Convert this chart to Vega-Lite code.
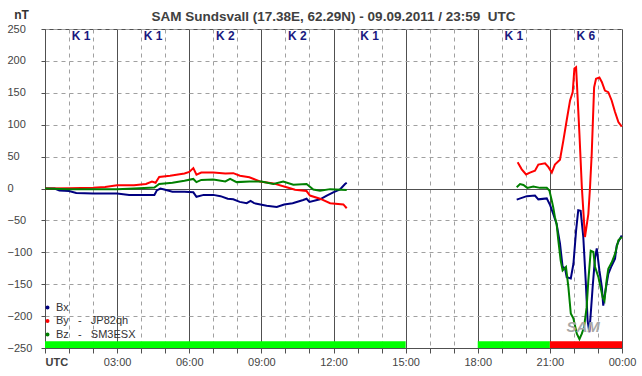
{
  "$schema": "https://vega.github.io/schema/vega-lite/v6.json",
  "autosize": {"type": "none"},
  "width": 577,
  "height": 319,
  "padding": {"left": 45, "top": 29, "right": 20, "bottom": 28},
  "background": "white",
  "config": {
    "view": {"stroke": "#505050", "strokeWidth": 1},
    "font": "Liberation Sans"
  },
  "title": {
    "text": "SAM Sundsvall (17.38E, 62.29N) - 09.09.2011 / 23:59\u00a0\u00a0UTC",
    "anchor": "middle",
    "fontSize": 13.5,
    "fontWeight": "bold",
    "color": "#404040",
    "offset": -15,
    "font": "Liberation Sans Narrow, Liberation Sans"
  },
  "datasets": {
    "mag": [
      {"s": "Bx", "g": 1, "h": 0, "v": 0},
      {"s": "Bx", "g": 1, "h": 0.4, "v": 0},
      {"s": "Bx", "g": 1, "h": 0.6, "v": -3},
      {"s": "Bx", "g": 1, "h": 1.0, "v": -4},
      {"s": "Bx", "g": 1, "h": 1.3, "v": -7},
      {"s": "Bx", "g": 1, "h": 2.0, "v": -8},
      {"s": "Bx", "g": 1, "h": 3.0, "v": -8},
      {"s": "Bx", "g": 1, "h": 3.5, "v": -10},
      {"s": "Bx", "g": 1, "h": 4.0, "v": -10},
      {"s": "Bx", "g": 1, "h": 4.55, "v": -10},
      {"s": "Bx", "g": 1, "h": 4.65, "v": -3},
      {"s": "Bx", "g": 1, "h": 4.8, "v": 0},
      {"s": "Bx", "g": 1, "h": 5.0, "v": -2},
      {"s": "Bx", "g": 1, "h": 5.3, "v": -5},
      {"s": "Bx", "g": 1, "h": 5.8, "v": -5},
      {"s": "Bx", "g": 1, "h": 6.17, "v": -6},
      {"s": "Bx", "g": 1, "h": 6.3, "v": -13},
      {"s": "Bx", "g": 1, "h": 6.6, "v": -10},
      {"s": "Bx", "g": 1, "h": 7.0, "v": -10},
      {"s": "Bx", "g": 1, "h": 7.3, "v": -12},
      {"s": "Bx", "g": 1, "h": 7.6, "v": -16},
      {"s": "Bx", "g": 1, "h": 7.83, "v": -17},
      {"s": "Bx", "g": 1, "h": 8.1, "v": -21},
      {"s": "Bx", "g": 1, "h": 8.39, "v": -23},
      {"s": "Bx", "g": 1, "h": 8.55, "v": -19.5},
      {"s": "Bx", "g": 1, "h": 8.7, "v": -23},
      {"s": "Bx", "g": 1, "h": 9.22, "v": -27},
      {"s": "Bx", "g": 1, "h": 9.64, "v": -29},
      {"s": "Bx", "g": 1, "h": 9.95, "v": -25},
      {"s": "Bx", "g": 1, "h": 10.3, "v": -23},
      {"s": "Bx", "g": 1, "h": 10.74, "v": -18},
      {"s": "Bx", "g": 1, "h": 10.88, "v": -16},
      {"s": "Bx", "g": 1, "h": 11.0, "v": -21},
      {"s": "Bx", "g": 1, "h": 11.44, "v": -17},
      {"s": "Bx", "g": 1, "h": 11.72, "v": -11},
      {"s": "Bx", "g": 1, "h": 11.99, "v": -6},
      {"s": "Bx", "g": 1, "h": 12.27, "v": -1.5},
      {"s": "Bx", "g": 1, "h": 12.48, "v": 7},
      {"s": "Bx", "g": 1, "h": 12.55, "v": 9},
      {"s": "Bx", "g": 2, "h": 19.62, "v": -17.5},
      {"s": "Bx", "g": 2, "h": 20.04, "v": -12},
      {"s": "Bx", "g": 2, "h": 20.38, "v": -11},
      {"s": "Bx", "g": 2, "h": 20.52, "v": -17},
      {"s": "Bx", "g": 2, "h": 20.87, "v": -15.5},
      {"s": "Bx", "g": 2, "h": 21.01, "v": -26},
      {"s": "Bx", "g": 2, "h": 21.14, "v": -40},
      {"s": "Bx", "g": 2, "h": 21.28, "v": -55.5},
      {"s": "Bx", "g": 2, "h": 21.42, "v": -86},
      {"s": "Bx", "g": 2, "h": 21.53, "v": -123},
      {"s": "Bx", "g": 2, "h": 21.63, "v": -125},
      {"s": "Bx", "g": 2, "h": 21.7, "v": -139},
      {"s": "Bx", "g": 2, "h": 21.87, "v": -141},
      {"s": "Bx", "g": 2, "h": 21.98, "v": -118},
      {"s": "Bx", "g": 2, "h": 22.09, "v": -66},
      {"s": "Bx", "g": 2, "h": 22.18, "v": -34},
      {"s": "Bx", "g": 2, "h": 22.28, "v": -35},
      {"s": "Bx", "g": 2, "h": 22.39, "v": -76},
      {"s": "Bx", "g": 2, "h": 22.49, "v": -144},
      {"s": "Bx", "g": 2, "h": 22.57, "v": -207},
      {"s": "Bx", "g": 2, "h": 22.64, "v": -225},
      {"s": "Bx", "g": 2, "h": 22.7, "v": -196},
      {"s": "Bx", "g": 2, "h": 22.78, "v": -154},
      {"s": "Bx", "g": 2, "h": 22.88, "v": -108},
      {"s": "Bx", "g": 2, "h": 22.95, "v": -94},
      {"s": "Bx", "g": 2, "h": 23.06, "v": -128.5},
      {"s": "Bx", "g": 2, "h": 23.16, "v": -154},
      {"s": "Bx", "g": 2, "h": 23.22, "v": -183.5},
      {"s": "Bx", "g": 2, "h": 23.29, "v": -165},
      {"s": "Bx", "g": 2, "h": 23.43, "v": -134},
      {"s": "Bx", "g": 2, "h": 23.57, "v": -121},
      {"s": "Bx", "g": 2, "h": 23.71, "v": -110},
      {"s": "Bx", "g": 2, "h": 23.78, "v": -89.5},
      {"s": "Bx", "g": 2, "h": 23.88, "v": -81},
      {"s": "Bx", "g": 2, "h": 23.99, "v": -73.7},
      {"s": "By", "g": 1, "h": 0, "v": 0},
      {"s": "By", "g": 1, "h": 1.0, "v": 0.5},
      {"s": "By", "g": 1, "h": 2.0, "v": 1},
      {"s": "By", "g": 1, "h": 2.5, "v": 2.5},
      {"s": "By", "g": 1, "h": 3.0, "v": 5},
      {"s": "By", "g": 1, "h": 3.7, "v": 5},
      {"s": "By", "g": 1, "h": 4.2, "v": 7},
      {"s": "By", "g": 1, "h": 4.45, "v": 11},
      {"s": "By", "g": 1, "h": 4.6, "v": 9},
      {"s": "By", "g": 1, "h": 4.75, "v": 18},
      {"s": "By", "g": 1, "h": 5.2, "v": 20},
      {"s": "By", "g": 1, "h": 5.8, "v": 23.6},
      {"s": "By", "g": 1, "h": 6.0, "v": 26},
      {"s": "By", "g": 1, "h": 6.17, "v": 32},
      {"s": "By", "g": 1, "h": 6.3, "v": 21.6},
      {"s": "By", "g": 1, "h": 6.5, "v": 25},
      {"s": "By", "g": 1, "h": 7.0, "v": 25},
      {"s": "By", "g": 1, "h": 7.5, "v": 23.6},
      {"s": "By", "g": 1, "h": 7.83, "v": 24},
      {"s": "By", "g": 1, "h": 8.11, "v": 20},
      {"s": "By", "g": 1, "h": 8.5, "v": 17.5},
      {"s": "By", "g": 1, "h": 8.94, "v": 11},
      {"s": "By", "g": 1, "h": 9.5, "v": 8},
      {"s": "By", "g": 1, "h": 10.05, "v": 2},
      {"s": "By", "g": 1, "h": 10.4, "v": -2},
      {"s": "By", "g": 1, "h": 10.88, "v": -4},
      {"s": "By", "g": 1, "h": 11.02, "v": -11},
      {"s": "By", "g": 1, "h": 11.44, "v": -16},
      {"s": "By", "g": 1, "h": 11.86, "v": -23},
      {"s": "By", "g": 1, "h": 12.41, "v": -25},
      {"s": "By", "g": 1, "h": 12.55, "v": -31},
      {"s": "By", "g": 2, "h": 19.66, "v": 41},
      {"s": "By", "g": 2, "h": 19.83, "v": 30},
      {"s": "By", "g": 2, "h": 20.01, "v": 22},
      {"s": "By", "g": 2, "h": 20.17, "v": 25},
      {"s": "By", "g": 2, "h": 20.38, "v": 28},
      {"s": "By", "g": 2, "h": 20.52, "v": 37.5},
      {"s": "By", "g": 2, "h": 20.8, "v": 39.5},
      {"s": "By", "g": 2, "h": 20.94, "v": 33.5},
      {"s": "By", "g": 2, "h": 21.08, "v": 25},
      {"s": "By", "g": 2, "h": 21.21, "v": 37.5},
      {"s": "By", "g": 2, "h": 21.42, "v": 45},
      {"s": "By", "g": 2, "h": 21.56, "v": 75},
      {"s": "By", "g": 2, "h": 21.7, "v": 107},
      {"s": "By", "g": 2, "h": 21.84, "v": 138},
      {"s": "By", "g": 2, "h": 21.95, "v": 151},
      {"s": "By", "g": 2, "h": 22.02, "v": 188},
      {"s": "By", "g": 2, "h": 22.09, "v": 190},
      {"s": "By", "g": 2, "h": 22.14, "v": 153},
      {"s": "By", "g": 2, "h": 22.23, "v": 85},
      {"s": "By", "g": 2, "h": 22.33, "v": 2},
      {"s": "By", "g": 2, "h": 22.4, "v": -40},
      {"s": "By", "g": 2, "h": 22.46, "v": -76},
      {"s": "By", "g": 2, "h": 22.6, "v": -40},
      {"s": "By", "g": 2, "h": 22.67, "v": 2},
      {"s": "By", "g": 2, "h": 22.74, "v": 54},
      {"s": "By", "g": 2, "h": 22.84, "v": 158.5},
      {"s": "By", "g": 2, "h": 22.92, "v": 172},
      {"s": "By", "g": 2, "h": 23.06, "v": 174},
      {"s": "By", "g": 2, "h": 23.16, "v": 167},
      {"s": "By", "g": 2, "h": 23.29, "v": 153.5},
      {"s": "By", "g": 2, "h": 23.43, "v": 151},
      {"s": "By", "g": 2, "h": 23.57, "v": 138},
      {"s": "By", "g": 2, "h": 23.71, "v": 120},
      {"s": "By", "g": 2, "h": 23.85, "v": 104},
      {"s": "By", "g": 2, "h": 23.99, "v": 97},
      {"s": "Bz", "g": 1, "h": 0, "v": 0},
      {"s": "Bz", "g": 1, "h": 1.0, "v": -1},
      {"s": "Bz", "g": 1, "h": 2.5, "v": -1},
      {"s": "Bz", "g": 1, "h": 3.0, "v": -1},
      {"s": "Bz", "g": 1, "h": 3.7, "v": 0},
      {"s": "Bz", "g": 1, "h": 4.55, "v": 1.5},
      {"s": "Bz", "g": 1, "h": 4.75, "v": 7},
      {"s": "Bz", "g": 1, "h": 5.3, "v": 9},
      {"s": "Bz", "g": 1, "h": 5.8, "v": 12},
      {"s": "Bz", "g": 1, "h": 6.17, "v": 15},
      {"s": "Bz", "g": 1, "h": 6.3, "v": 10},
      {"s": "Bz", "g": 1, "h": 6.5, "v": 13.5},
      {"s": "Bz", "g": 1, "h": 7.0, "v": 14},
      {"s": "Bz", "g": 1, "h": 7.5, "v": 11},
      {"s": "Bz", "g": 1, "h": 7.7, "v": 15},
      {"s": "Bz", "g": 1, "h": 7.97, "v": 10},
      {"s": "Bz", "g": 1, "h": 8.5, "v": 11},
      {"s": "Bz", "g": 1, "h": 9.0, "v": 11},
      {"s": "Bz", "g": 1, "h": 9.5, "v": 7},
      {"s": "Bz", "g": 1, "h": 9.91, "v": 11},
      {"s": "Bz", "g": 1, "h": 10.33, "v": 6},
      {"s": "Bz", "g": 1, "h": 10.88, "v": 7},
      {"s": "Bz", "g": 1, "h": 11.16, "v": -1.5},
      {"s": "Bz", "g": 1, "h": 11.44, "v": -3.6},
      {"s": "Bz", "g": 1, "h": 11.86, "v": -1},
      {"s": "Bz", "g": 1, "h": 12.55, "v": -2.5},
      {"s": "Bz", "g": 2, "h": 19.62, "v": 2},
      {"s": "Bz", "g": 2, "h": 19.76, "v": 7},
      {"s": "Bz", "g": 2, "h": 19.9, "v": 5.6},
      {"s": "Bz", "g": 2, "h": 20.06, "v": 1},
      {"s": "Bz", "g": 2, "h": 20.31, "v": 3},
      {"s": "Bz", "g": 2, "h": 20.59, "v": 1},
      {"s": "Bz", "g": 2, "h": 20.87, "v": 1},
      {"s": "Bz", "g": 2, "h": 20.98, "v": -3},
      {"s": "Bz", "g": 2, "h": 21.08, "v": -19},
      {"s": "Bz", "g": 2, "h": 21.14, "v": -29.5},
      {"s": "Bz", "g": 2, "h": 21.21, "v": -45},
      {"s": "Bz", "g": 2, "h": 21.28, "v": -55.5},
      {"s": "Bz", "g": 2, "h": 21.35, "v": -81},
      {"s": "Bz", "g": 2, "h": 21.45, "v": -113},
      {"s": "Bz", "g": 2, "h": 21.53, "v": -128.5},
      {"s": "Bz", "g": 2, "h": 21.67, "v": -123},
      {"s": "Bz", "g": 2, "h": 21.77, "v": -154.5},
      {"s": "Bz", "g": 2, "h": 21.87, "v": -196},
      {"s": "Bz", "g": 2, "h": 21.98, "v": -204},
      {"s": "Bz", "g": 2, "h": 22.12, "v": -227.5},
      {"s": "Bz", "g": 2, "h": 22.23, "v": -236},
      {"s": "Bz", "g": 2, "h": 22.33, "v": -227.5},
      {"s": "Bz", "g": 2, "h": 22.42, "v": -217.5},
      {"s": "Bz", "g": 2, "h": 22.53, "v": -186},
      {"s": "Bz", "g": 2, "h": 22.6, "v": -144},
      {"s": "Bz", "g": 2, "h": 22.7, "v": -97.5},
      {"s": "Bz", "g": 2, "h": 22.81, "v": -99.5},
      {"s": "Bz", "g": 2, "h": 22.88, "v": -123},
      {"s": "Bz", "g": 2, "h": 23.02, "v": -139},
      {"s": "Bz", "g": 2, "h": 23.2, "v": -171},
      {"s": "Bz", "g": 2, "h": 23.27, "v": -176},
      {"s": "Bz", "g": 2, "h": 23.36, "v": -144},
      {"s": "Bz", "g": 2, "h": 23.43, "v": -126},
      {"s": "Bz", "g": 2, "h": 23.57, "v": -116},
      {"s": "Bz", "g": 2, "h": 23.71, "v": -102.5},
      {"s": "Bz", "g": 2, "h": 23.85, "v": -81},
      {"s": "Bz", "g": 2, "h": 23.99, "v": -76}
    ],
    "kindex": [
      {"mid": 1.5, "k": "K 1"},
      {"mid": 4.5, "k": "K 1"},
      {"mid": 7.5, "k": "K 2"},
      {"mid": 10.5, "k": "K 2"},
      {"mid": 13.5, "k": "K 1"},
      {"mid": 19.5, "k": "K 1"},
      {"mid": 22.5, "k": "K 6"}
    ],
    "status": [
      {"from": 0, "to": 15, "state": "quiet"},
      {"from": 18, "to": 21, "state": "quiet"},
      {"from": 21, "to": 24, "state": "storm"}
    ],
    "logo": [{"h": 22.38, "v": -217, "t": "SAM"}]
  },
  "layer": [
    {
      "data": {"name": "status"},
      "mark": {"type": "rect"},
      "encoding": {
        "x": {
          "field": "from", "type": "quantitative",
          "scale": {"domain": [0, 24], "nice": false, "zero": false},
          "axis": {
            "values": [0,1,2,3,4,5,6,7,8,9,10,11,12,13,14,15,16,17,18,19,20,21,22,23,24],
            "tickCount": 40,
            "title": null,
            "labelExpr": "datum.value == 0 ? 'UTC' : datum.value == 24 ? '00:00' : (datum.value % 3 == 0 ? (datum.value < 10 ? '0' : '') + datum.value + ':00' : '')",
            "labelFontWeight": {"condition": {"test": "datum.value == 0", "value": "bold"}, "value": "normal"},
            "labelColor": {"condition": {"test": "datum.value == 0", "value": "#404040"}, "value": "#444444"},
            "labelAlign": {"condition": {"test": "datum.value == 0", "value": "left"}, "value": "center"},
            "labelFontSize": 11,
            "labelFont": "Liberation Sans",
            "labelPadding": 3,
            "labelFlush": false,
            "labelOverlap": false,
            "tickSize": 5,
            "tickColor": "#505050",
            "domainColor": "#505050",
            "grid": true,
            "gridColor": {"condition": {"test": "datum.value % 3 == 0", "value": "#505050"}, "value": "#a0a0a0"},
            "gridDash": {"condition": {"test": "datum.value % 3 == 0", "value": []}, "value": [4, 4]},
            "gridWidth": 1
          }
        },
        "x2": {"field": "to"},
        "y": {
          "datum": -250, "type": "quantitative",
          "scale": {"domain": [-250, 250], "nice": false, "zero": false},
          "axis": {
            "values": [-250,-200,-150,-100,-50,0,50,100,150,200,250],
            "tickCount": 40,
            "title": "nT",
            "titleAngle": 0,
            "titleX": -24,
            "titleY": -15,
            "titleAlign": "center",
            "titleBaseline": "middle",
            "titleFontSize": 12,
            "titleFontWeight": "bold",
            "titleColor": "#333333",
            "titleFont": "Liberation Sans",
            "labelFontSize": 11,
            "labelFont": "Liberation Sans",
            "labelColor": "#444444",
            "labelAlign": "left",
            "labelPadding": 34,
            "labelFlush": false,
            "labelOverlap": false,
            "tickSize": 4,
            "tickColor": "#505050",
            "domainColor": "#505050",
            "grid": true,
            "gridColor": {"condition": {"test": "datum.value == 0", "value": "#505050"}, "value": "#a0a0a0"},
            "gridDash": {"condition": {"test": "datum.value == 0", "value": []}, "value": [4, 4]},
            "gridWidth": 1
          }
        },
        "y2": {"datum": -239.5},
        "fill": {
          "field": "state", "type": "nominal",
          "scale": {"domain": ["quiet", "storm"], "range": ["#00ff00", "#ff0000"]},
          "legend": null
        }
      }
    },
    {
      "data": {"name": "mag"},
      "mark": {"type": "line", "strokeWidth": 2, "interpolate": "linear"},
      "encoding": {
        "x": {"field": "h", "type": "quantitative"},
        "y": {"field": "v", "type": "quantitative"},
        "detail": {"field": "g", "type": "nominal"},
        "color": {
          "field": "s", "type": "nominal",
          "scale": {"domain": ["Bx", "By", "Bz"], "range": ["#000080", "#ff0000", "#008000"]},
          "legend": {
            "orient": "none",
            "legendX": -3,
            "legendY": 273,
            "title": null,
            "padding": 0,
            "symbolType": "circle",
            "symbolSize": 4,
            "symbolStrokeWidth": 2,
            "labelFontSize": 11,
            "labelFont": "Liberation Sans",
            "labelColor": "#333333",
            "labelOffset": 3,
            "rowPadding": 1.5,
            "labelExpr": "datum.label == 'By' ? 'By\u00a0\u00a0\u00a0-\u00a0\u00a0\u00a0JP82qh' : datum.label == 'Bz' ? 'Bz\u00a0\u00a0\u00a0-\u00a0\u00a0\u00a0SM3ESX' : datum.label"
          }
        }
      }
    },
    {
      "data": {"name": "kindex"},
      "mark": {"type": "text", "font": "Liberation Sans", "fontSize": 12, "fontWeight": "bold", "color": "#1a1a80", "baseline": "middle"},
      "encoding": {
        "x": {"field": "mid", "type": "quantitative"},
        "y": {"datum": 239},
        "text": {"field": "k"}
      }
    },
    {
      "data": {"name": "logo"},
      "mark": {"type": "text", "font": "Liberation Sans", "fontSize": 15, "fontWeight": "bold", "fontStyle": "italic", "color": "#a8a8a8", "baseline": "middle"},
      "encoding": {
        "x": {"field": "h", "type": "quantitative"},
        "y": {"field": "v", "type": "quantitative"},
        "text": {"field": "t"}
      }
    }
  ]
}
